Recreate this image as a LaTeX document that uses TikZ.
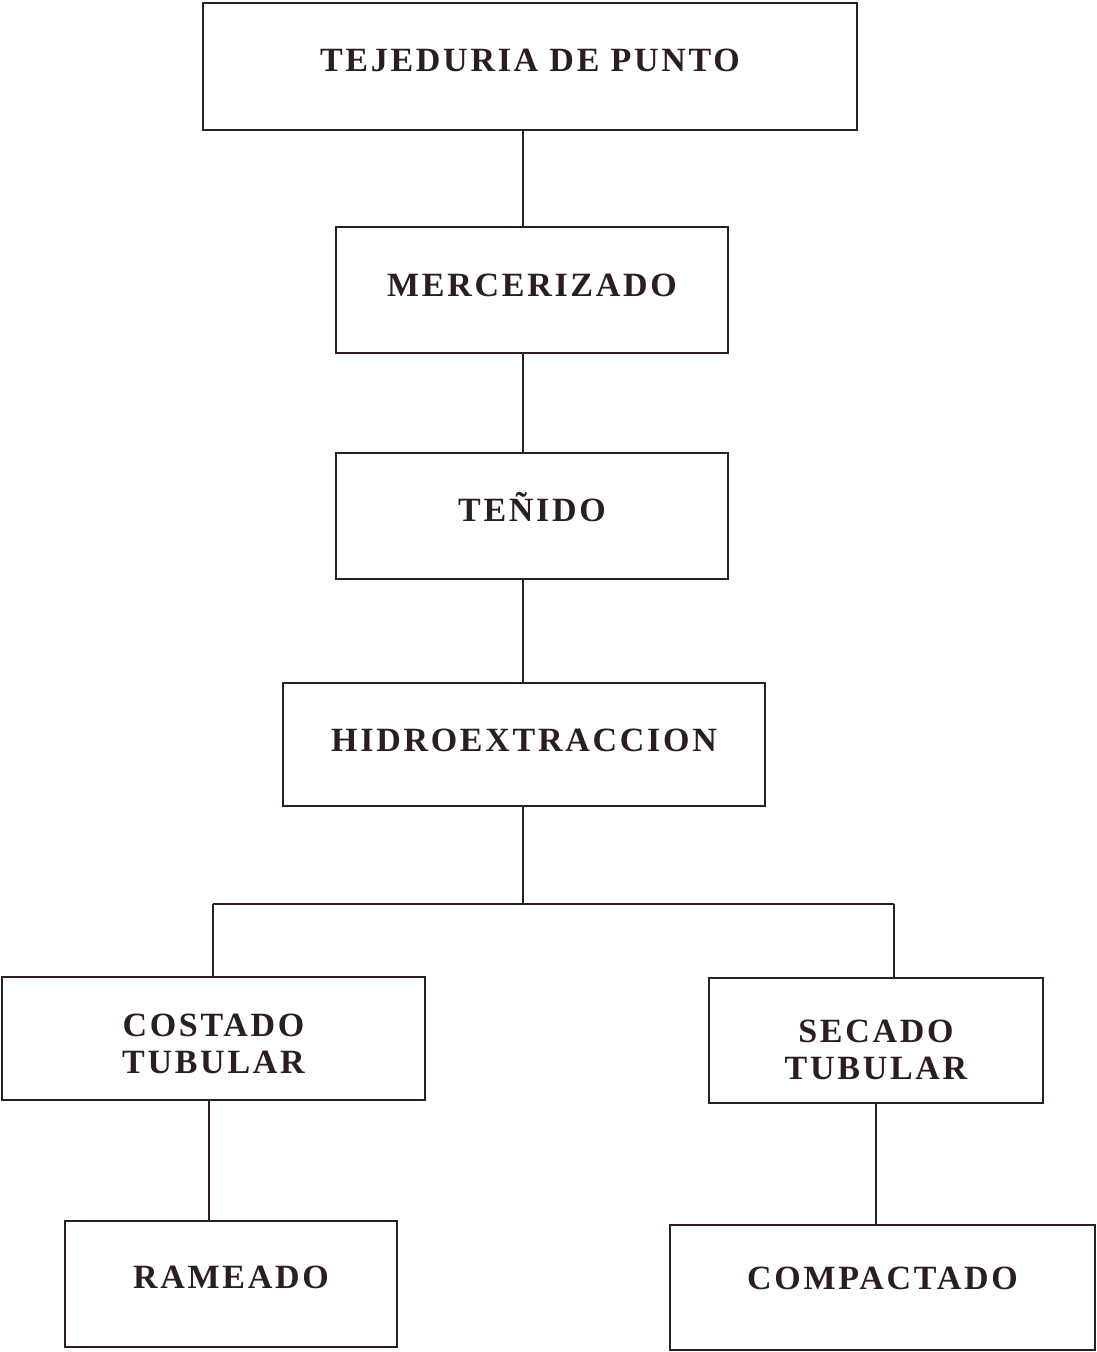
\documentclass[tikz,border=0pt]{standalone}
\usepackage{fontspec}
\setmainfont{Liberation Serif}
% place a (possibly multi-line) label at a given height within its box
\newcommand{\liftlabel}[2]{\raisebox{#1}[0pt][0pt]{\begin{tabular}{@{}c@{}}#2\end{tabular}}}
\begin{document}
\definecolor{ink}{HTML}{2B1D20}
\begin{tikzpicture}[x=1pt,y=-1pt,
  stage/.style={draw=ink,line width=2.4pt,inner sep=0pt,
    text=ink,font=\fontsize{34}{37}\selectfont\bfseries\addfontfeatures{LetterSpace=8},
    align=center},
  link/.style={draw=ink,line width=2.4pt}]
\useasboundingbox (0,0) rectangle (1097,1352);
% process stages (positions given by corners)
\node[stage,minimum width=654,minimum height=127] (tej) at (530,66.5) {\liftlabel{-4pt}{TEJEDURIA DE PUNTO}};
\node[stage,minimum width=392,minimum height=126] (mer) at (532,290) {\liftlabel{-5.5pt}{MERCERIZADO}};
\node[stage,minimum width=392,minimum height=126] (ten) at (532,516) {\liftlabel{-3pt}{TEÑIDO}};
\node[stage,minimum width=482,minimum height=123] (hid) at (524,744.5) {\liftlabel{-6pt}{HIDROEXTRACCION}};
\node[stage,minimum width=423,minimum height=123] (cos) at (213.5,1038.5) {\liftlabel{-15pt}{COSTADO\\TUBULAR}};
\node[stage,minimum width=334,minimum height=125] (sec) at (876,1040.5) {\liftlabel{-19.5pt}{SECADO\\TUBULAR}};
\node[stage,minimum width=332,minimum height=126] (ram) at (231,1284) {\liftlabel{-3.5pt}{RAMEADO}};
\node[stage,minimum width=425,minimum height=125] (com) at (882.5,1287.5) {\liftlabel{-1pt}{COMPACTADO}};
% branching points
\coordinate (split) at (523,904);
\coordinate (lft) at (213,904);
\coordinate (rgt) at (894,904);
% connectors
\draw[link] (tej.south -| split) -- (mer.north -| split);
\draw[link] (mer.south -| split) -- (ten.north -| split);
\draw[link] (ten.south -| split) -- (hid.north -| split);
\draw[link] (hid.south -| split) -- (split);
\draw[link] (lft) -- (rgt);
\draw[link] (lft) -- (cos.north -| lft);
\draw[link] (rgt) -- (sec.north -| rgt);
\draw[link] (cos.south -| 209,0) -- (ram.north -| 209,0);
\draw[link] (sec.south -| 876,0) -- (com.north -| 876,0);
\end{tikzpicture}
\end{document}
